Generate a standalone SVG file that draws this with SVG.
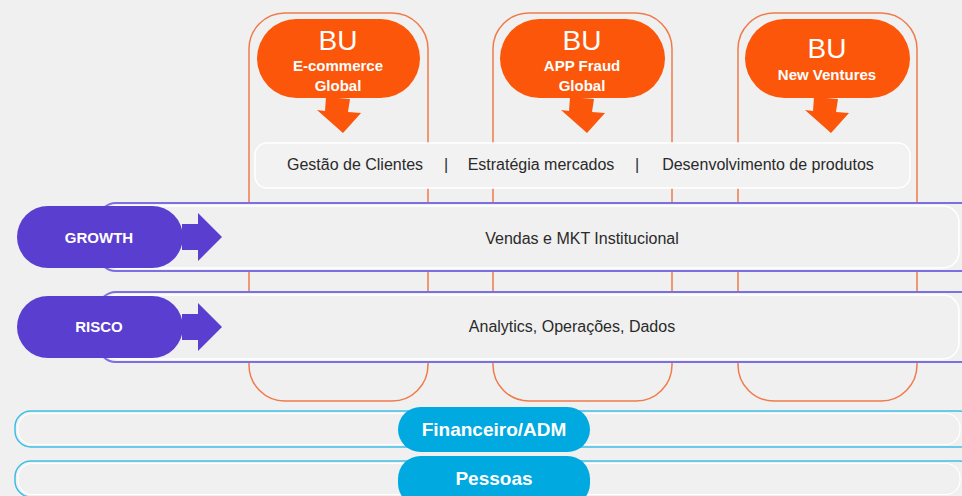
<svg xmlns="http://www.w3.org/2000/svg" width="962" height="496" viewBox="0 0 962 496">
<defs>
<style>
.bg{fill:#f0f0f0}
.col{fill:none;stroke:#f07a4a;stroke-width:1.5}
.bu{fill:#fc560a}
.buarrow{fill:#fc560a}
.t-bu{font-family:"Liberation Sans","DejaVu Sans",sans-serif;fill:#fff;text-anchor:middle}
.bu-big{font-size:28px}
.bu-sub{font-size:15px;font-weight:bold}
.gray{fill:#f2f2f2;stroke:#ffffff;stroke-width:1.5}
.t-dark{font-family:"Liberation Sans","DejaVu Sans",sans-serif;fill:#2a2a2a;font-size:16px;text-anchor:middle}
.pband{fill:#f0f0f0;stroke:#7c6fe2;stroke-width:2}
.pinner{fill:none;stroke:#ffffff;stroke-width:1.5}
.ppill{fill:#5a3ecf}
.t-p{font-family:"Liberation Sans","DejaVu Sans",sans-serif;fill:#fff;font-weight:bold;font-size:15px;text-anchor:middle}
.cband{fill:#f0f0f0;stroke:#3cbde6;stroke-width:1.5}
.cinner{fill:none;stroke:#ffffff;stroke-width:1.2}
.cpill{fill:#00a9e0}
.t-c{font-family:"Liberation Sans Narrow","Liberation Sans","DejaVu Sans Condensed",sans-serif;fill:#fff;font-weight:bold;font-size:19px;text-anchor:middle}
</style>
</defs>
<rect class="bg" x="0" y="0" width="962" height="496"/>

<g id="columns">
<rect class="col" x="249" y="13" width="179" height="388" rx="36"/>
<rect class="col" x="493" y="13" width="179" height="388" rx="36"/>
<rect class="col" x="738" y="13" width="179" height="388" rx="36"/>
</g>

<g id="bu-ecommerce">
<rect class="bu" x="257" y="19" width="163" height="79" rx="39.5"/>
<text class="t-bu bu-big" x="338" y="50">BU</text>
<text class="t-bu bu-sub" x="338" y="71">E-commerce</text>
<text class="t-bu bu-sub" x="338" y="91">Global</text>
<polygon class="buarrow" points="326,97 350,99 348,112 361,113 343,133 317,110 325,111" />
</g>
<g id="bu-appfraud">
<rect class="bu" x="500" y="19" width="165" height="79" rx="39.5"/>
<text class="t-bu bu-big" x="582" y="50">BU</text>
<text class="t-bu bu-sub" x="582" y="71">APP Fraud</text>
<text class="t-bu bu-sub" x="582" y="91">Global</text>
<polygon class="buarrow" points="570,97 594,99 592,112 605,113 587,133 561,110 569,111" />
</g>
<g id="bu-newventures">
<rect class="bu" x="745" y="19" width="165" height="79" rx="39.5"/>
<text class="t-bu bu-big" x="827" y="58">BU</text>
<text class="t-bu bu-sub" x="827" y="80">New Ventures</text>
<polygon class="buarrow" points="814,97 838,99 836,112 849,113 831,133 805,110 813,111" />
</g>

<g id="gray-band">
<rect class="gray" x="255" y="143" width="655" height="45" rx="12"/>
<text class="t-dark" x="355" y="170">Gestão de Clientes</text>
<text class="t-dark" x="446" y="170">|</text>
<text class="t-dark" x="541" y="170">Estratégia mercados</text>
<text class="t-dark" x="637" y="170">|</text>
<text class="t-dark" x="768" y="170">Desenvolvimento de produtos</text>
</g>

<g id="growth-band">
<rect class="pband" x="98" y="203" width="890" height="68" rx="18"/>
<rect class="pinner" x="101" y="206" width="858" height="62" rx="16"/>
<text class="t-dark" x="582" y="244">Vendas e MKT Institucional</text>
</g>
<g id="growth">
<rect class="ppill" x="17" y="206" width="166" height="62" rx="31"/>
<polygon class="ppill" points="182,224 198,224 198,213 222,237 198,261 198,250 182,250"/>
<text class="t-p" x="99" y="243">GROWTH</text>
</g>

<g id="risco-band">
<rect class="pband" x="98" y="292" width="890" height="70" rx="18"/>
<rect class="pinner" x="101" y="295" width="858" height="64" rx="16"/>
<text class="t-dark" x="572" y="332">Analytics, Operações, Dados</text>
</g>
<g id="risco">
<rect class="ppill" x="17" y="296" width="166" height="62" rx="31"/>
<polygon class="ppill" points="182,314 198,314 198,303 222,327 198,351 198,340 182,340"/>
<text class="t-p" x="99" y="332">RISCO</text>
</g>

<g id="financeiro">
<rect class="cband" x="15" y="411" width="960" height="36" rx="16"/>
<rect class="cinner" x="18" y="413.5" width="942" height="31" rx="14"/>
<rect class="cpill" x="398" y="407" width="192" height="45" rx="22.5"/>
<text class="t-c" x="494" y="436">Financeiro/ADM</text>
</g>
<g id="pessoas">
<rect class="cband" x="15" y="461" width="960" height="36" rx="16"/>
<rect class="cinner" x="18" y="463.5" width="942" height="31" rx="14"/>
<rect class="cpill" x="398" y="456" width="192" height="50" rx="22.5"/>
<text class="t-c" x="494" y="485">Pessoas</text>
</g>
<g id="connectors"></g>
</svg>
